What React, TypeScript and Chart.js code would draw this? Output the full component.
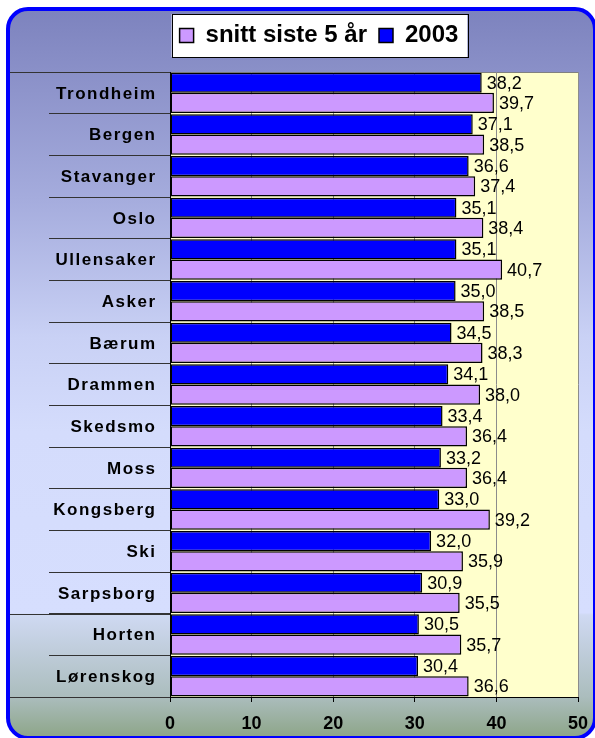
import React, { useEffect, useRef } from 'react';
import { Chart, registerables } from 'chart.js';

Chart.register(...registerables);

const CATEGORIES = ['Trondheim', 'Bergen', 'Stavanger', 'Oslo', 'Ullensaker', 'Asker', 'Bærum', 'Drammen', 'Skedsmo', 'Moss', 'Kongsberg', 'Ski', 'Sarpsborg', 'Horten', 'Lørenskog'];
const SERIES_2003 = [38.2, 37.1, 36.6, 35.1, 35.1, 35.0, 34.5, 34.1, 33.4, 33.2, 33.0, 32.0, 30.9, 30.5, 30.4];
const SERIES_AVG = [39.7, 38.5, 37.4, 38.4, 40.7, 38.5, 38.3, 38.0, 36.4, 36.4, 39.2, 35.9, 35.5, 35.7, 36.6];
const LABEL_2003 = '2003';
const LABEL_AVG = 'snitt siste 5 år';
const X_MIN = 0;
const X_MAX = 50;
const X_STEP = 10;
const FULL_SEPARATOR_AFTER = [12];

const fmt = (v: number) => v.toFixed(1).replace('.', ',');

const backgroundPlugin = {
  id: 'bgPlugin',
  beforeDraw(chart: any) {
    const { ctx, chartArea: a } = chart;
    ctx.save();
    ctx.fillStyle = '#ffffcc';
    ctx.fillRect(a.left, a.top, a.right - a.left, a.bottom - a.top);
    ctx.strokeStyle = '#808080';
    ctx.lineWidth = 1;
    ctx.beginPath();
    ctx.moveTo(a.left, Math.round(a.top) + 0.5);
    ctx.lineTo(a.right, Math.round(a.top) + 0.5);
    ctx.stroke();
    // legend frame
    const hb = chart.legend && chart.legend.legendHitBoxes;
    if (hb && hb.length) {
      const left = Math.min(...hb.map((h: any) => h.left)) - 8;
      const right = Math.max(...hb.map((h: any) => h.left + h.width)) + 9;
      const top = Math.min(...hb.map((h: any) => h.top)) - 9.5;
      const bottom = Math.max(...hb.map((h: any) => h.top + h.height)) + 9.5;
      ctx.fillStyle = '#ffffff';
      ctx.fillRect(left, top, right - left, bottom - top);
      ctx.strokeStyle = '#000000';
      ctx.lineWidth = 1;
      ctx.strokeRect(Math.round(left) + 0.5, Math.round(top) + 0.5, Math.round(right - left), Math.round(bottom - top));
    }
    // long separators in label area
    const ys = chart.scales.y;
    const lines = [a.top, a.bottom, ...FULL_SEPARATOR_AFTER.map((i) => (ys.getPixelForValue(i) + ys.getPixelForValue(i + 1)) / 2)];
    ctx.strokeStyle = '#333333';
    ctx.lineWidth = 1;
    lines.forEach((y) => {
      ctx.beginPath();
      ctx.moveTo(10, Math.round(y) + 0.5);
      ctx.lineTo(a.left, Math.round(y) + 0.5);
      ctx.stroke();
    });
    ctx.restore();
  },
};

const categoryLabelPlugin = {
  id: 'categoryLabels',
  afterDraw(chart: any) {
    const { ctx, chartArea: a } = chart;
    const ys = chart.scales.y;
    ctx.save();
    ctx.font = 'bold 17px "Liberation Sans", Arial, sans-serif';
    try {
      (ctx as any).letterSpacing = '1.5px';
    } catch (e) {}
    ctx.fillStyle = '#000000';
    ctx.textAlign = 'right';
    ctx.textBaseline = 'middle';
    (chart.data.labels as string[]).forEach((lab, i) => {
      ctx.fillText(lab, a.left - 13.5, ys.getPixelForValue(i) + 1);
    });
    ctx.restore();
  },
};

const valueLabelPlugin = {
  id: 'valueLabels',
  afterDatasetsDraw(chart: any) {
    const { ctx } = chart;
    ctx.save();
    ctx.font = '18px "Liberation Sans", Arial, sans-serif';
    ctx.fillStyle = '#000000';
    ctx.textBaseline = 'middle';
    ctx.textAlign = 'left';
    chart.data.datasets.forEach((ds: any, i: number) => {
      const meta = chart.getDatasetMeta(i);
      meta.data.forEach((el: any, j: number) => {
        ctx.fillText(fmt(ds.data[j]), el.x + 5, el.y + 1);
      });
    });
    ctx.restore();
  },
};

export default function App() {
  const ref = useRef<HTMLCanvasElement>(null);
  useEffect(() => {
    Chart.defaults.font.family = '"Liberation Sans", Arial, sans-serif';
    const chart = new Chart(ref.current as HTMLCanvasElement, {
      type: 'bar',
      data: {
        labels: CATEGORIES,
        datasets: [
          {
            label: LABEL_2003,
            data: SERIES_2003,
            backgroundColor: '#0000ff',
            borderColor: '#000000',
            borderWidth: 1.5,
            borderSkipped: false,
            categoryPercentage: 0.97,
            barPercentage: 1,
          },
          {
            label: LABEL_AVG,
            data: SERIES_AVG,
            backgroundColor: '#cc99ff',
            borderColor: '#000000',
            borderWidth: 1.5,
            borderSkipped: false,
            categoryPercentage: 0.97,
            barPercentage: 1,
          },
        ],
      },
      options: {
        indexAxis: 'y',
        animation: false,
        responsive: false,
        devicePixelRatio: 1,
        events: [],
        layout: { padding: { top: 11.5, left: 60, right: 17, bottom: 0 } },
        scales: {
          x: {
            min: X_MIN,
            max: X_MAX,
            ticks: {
              stepSize: X_STEP,
              color: '#000000',
              font: { size: 18, weight: 'bold' },
              padding: 11,
            },
            grid: { color: '#8c8c8c', tickColor: '#000000', tickLength: 5, drawTicks: true },
            border: { color: '#000000', width: 1 },
            afterFit(s: any) {
              s.height = 41;
              s.paddingLeft = 0;
              s.paddingRight = 0;
            },
          },
          y: {
            ticks: {
              display: false,
              autoSkip: false,
            },
            grid: { color: '#333333', tickColor: '#333333', drawOnChartArea: false, tickLength: 121, offset: true },
            border: { color: '#000000', width: 1 },
            afterFit(s: any) {
              s.width = 110;
            },
          },
        },
        plugins: {
          tooltip: { enabled: false },
          legend: {
            position: 'top',
            reverse: true,
            labels: {
              color: '#000000',
              font: { size: 24, weight: 'bold' },
              boxWidth: 14,
              boxHeight: 14,
              padding: 12,
            },
          },
          title: {
            display: true,
            text: '',
            weight: 500,
            font: { size: 1, lineHeight: 1 },
            padding: { top: 7, bottom: 6.5 },
          },
        },
      } as any,
      plugins: [backgroundPlugin, valueLabelPlugin, categoryLabelPlugin],
    });
    return () => chart.destroy();
  }, []);

  return (
    <div style={{ position: 'fixed', left: 0, top: 0, width: 595, height: 738, overflow: 'hidden', background: '#ffffff' }}>
      <div
        style={{
          position: 'absolute',
          left: 6,
          top: 7,
          width: 591,
          height: 733,
          boxSizing: 'border-box',
          border: '4px solid #0000ff',
          borderRadius: 22,
          background:
            'linear-gradient(to bottom, #7d83be 0%, #8a90c8 8.4%, #a5acdd 26%, #c9d1f5 45%, #d4dcfc 58%, #d6defe 83%, #cfd9f2 83.3%, #abbdbd 94.6%, #8ea68a 100%)',
        }}
      />
      <canvas ref={ref} width={595} height={738} style={{ position: 'absolute', left: 0, top: 0, width: 595, height: 738 }} />
    </div>
  );
}
